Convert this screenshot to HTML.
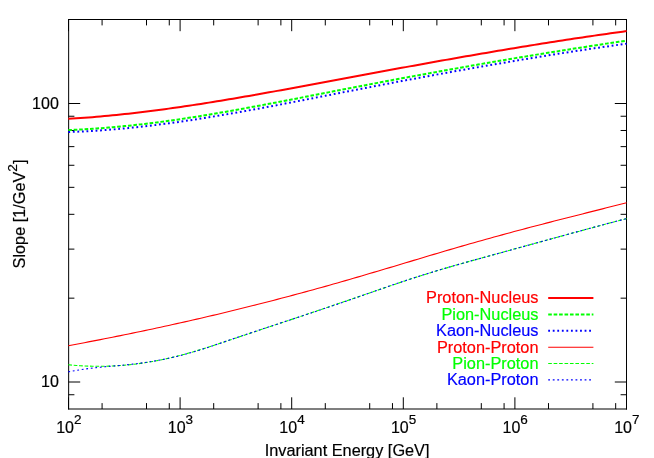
<!DOCTYPE html>
<html><head><meta charset="utf-8"><title>Slope vs Invariant Energy</title>
<style>html,body{margin:0;padding:0;background:#fff;overflow:hidden}svg{display:block;will-change:transform;opacity:0.999}</style>
</head><body>
<svg width="654" height="458" viewBox="0 0 654 458">
<rect width="654" height="458" fill="#fff"/>
<g stroke="#000" stroke-width="1" fill="none" stroke-linecap="square">
<path d="M68.65,409.59 V19.00" stroke-linecap="butt"/>
<path d="M68.15,19.50 H627.00" stroke-linecap="butt"/>
<path d="M626.50,19.00 V409.59" stroke-linecap="butt"/>
<path d="M68.15,409.00 H627.00" stroke-width="1.18" stroke-linecap="butt"/>
<path d="M68.50,409.00 v-11.70 M68.50,19.50 v11.70 M102.09,409.00 v-5.90 M102.09,19.50 v5.90 M146.51,409.00 v-5.90 M146.51,19.50 v5.90 M169.28,409.00 v-5.90 M169.28,19.50 v5.90 M180.10,409.00 v-11.70 M180.10,19.50 v11.70 M213.69,409.00 v-5.90 M213.69,19.50 v5.90 M258.11,409.00 v-5.90 M258.11,19.50 v5.90 M280.88,409.00 v-5.90 M280.88,19.50 v5.90 M291.70,409.00 v-11.70 M291.70,19.50 v11.70 M325.29,409.00 v-5.90 M325.29,19.50 v5.90 M369.71,409.00 v-5.90 M369.71,19.50 v5.90 M392.48,409.00 v-5.90 M392.48,19.50 v5.90 M403.30,409.00 v-11.70 M403.30,19.50 v11.70 M436.89,409.00 v-5.90 M436.89,19.50 v5.90 M481.31,409.00 v-5.90 M481.31,19.50 v5.90 M504.08,409.00 v-5.90 M504.08,19.50 v5.90 M514.90,409.00 v-11.70 M514.90,19.50 v11.70 M548.49,409.00 v-5.90 M548.49,19.50 v5.90 M592.91,409.00 v-5.90 M592.91,19.50 v5.90 M615.68,409.00 v-5.90 M615.68,19.50 v5.90 M626.50,409.00 v-11.70 M626.50,19.50 v11.70 M68.50,382.00 h11.70 M626.50,382.00 h-11.70 M68.50,103.50 h11.70 M626.50,103.50 h-11.70 M68.50,394.74 h5.90 M626.50,394.74 h-5.90 M68.50,298.16 h5.90 M626.50,298.16 h-5.90 M68.50,249.12 h5.90 M626.50,249.12 h-5.90 M68.50,214.32 h5.90 M626.50,214.32 h-5.90 M68.50,187.34 h5.90 M626.50,187.34 h-5.90 M68.50,165.28 h5.90 M626.50,165.28 h-5.90 M68.50,146.64 h5.90 M626.50,146.64 h-5.90 M68.50,130.49 h5.90 M626.50,130.49 h-5.90 M68.50,116.24 h5.90 M626.50,116.24 h-5.90" stroke-linecap="butt"/>
</g>
<g fill="none" stroke-linecap="butt" stroke-linejoin="round">
<path d="M68.30,118.87 L72.32,118.62 L76.33,118.36 L80.35,118.08 L84.37,117.79 L88.38,117.48 L92.40,117.16 L96.42,116.83 L100.43,116.48 L104.45,116.11 L108.47,115.73 L112.48,115.34 L116.50,114.94 L120.52,114.52 L124.53,114.10 L128.55,113.65 L132.56,113.20 L136.58,112.74 L140.60,112.26 L144.61,111.77 L148.63,111.27 L152.65,110.76 L156.66,110.24 L160.68,109.71 L164.70,109.17 L168.71,108.62 L172.73,108.06 L176.75,107.49 L180.76,106.91 L184.78,106.32 L188.80,105.73 L192.81,105.12 L196.83,104.51 L200.85,103.89 L204.86,103.26 L208.88,102.62 L212.90,101.98 L216.91,101.33 L220.93,100.67 L224.95,100.00 L228.96,99.33 L232.98,98.66 L236.99,97.98 L241.01,97.29 L245.03,96.59 L249.04,95.90 L253.06,95.19 L257.08,94.48 L261.09,93.77 L265.11,93.06 L269.13,92.34 L273.14,91.61 L277.16,90.88 L281.18,90.15 L285.19,89.42 L289.21,88.68 L293.23,87.95 L297.24,87.21 L301.26,86.46 L305.28,85.72 L309.29,84.97 L313.31,84.22 L317.33,83.48 L321.34,82.73 L325.36,81.98 L329.38,81.23 L333.39,80.48 L337.41,79.73 L341.43,78.98 L345.44,78.23 L349.46,77.48 L353.47,76.73 L357.49,75.99 L361.51,75.24 L365.52,74.50 L369.54,73.75 L373.56,73.01 L377.57,72.27 L381.59,71.53 L385.61,70.79 L389.62,70.05 L393.64,69.31 L397.66,68.58 L401.67,67.84 L405.69,67.11 L409.71,66.38 L413.72,65.65 L417.74,64.93 L421.76,64.20 L425.77,63.48 L429.79,62.75 L433.81,62.04 L437.82,61.32 L441.84,60.60 L445.86,59.89 L449.87,59.18 L453.89,58.47 L457.91,57.76 L461.92,57.06 L465.94,56.36 L469.95,55.66 L473.97,54.96 L477.99,54.27 L482.00,53.58 L486.02,52.89 L490.04,52.21 L494.05,51.52 L498.07,50.85 L502.09,50.17 L506.10,49.50 L510.12,48.83 L514.14,48.16 L518.15,47.50 L522.17,46.84 L526.19,46.18 L530.20,45.53 L534.22,44.88 L538.24,44.24 L542.25,43.60 L546.27,42.96 L550.29,42.32 L554.30,41.69 L558.32,41.07 L562.34,40.45 L566.35,39.83 L570.37,39.22 L574.38,38.61 L578.40,38.00 L582.42,37.40 L586.43,36.80 L590.45,36.21 L594.47,35.63 L598.48,35.04 L602.50,34.47 L606.52,33.89 L610.53,33.32 L614.55,32.76 L618.57,32.20 L622.58,31.65 L626.60,31.10" stroke="#f00" stroke-width="2.0"/>
<path d="M68.30,130.05 L72.32,129.89 L76.33,129.71 L80.35,129.52 L84.37,129.30 L88.38,129.06 L92.40,128.81 L96.42,128.53 L100.43,128.24 L104.45,127.93 L108.47,127.60 L112.48,127.26 L116.50,126.90 L120.52,126.52 L124.53,126.12 L128.55,125.71 L132.56,125.28 L136.58,124.84 L140.60,124.38 L144.61,123.91 L148.63,123.42 L152.65,122.92 L156.66,122.41 L160.68,121.88 L164.70,121.34 L168.71,120.79 L172.73,120.22 L176.75,119.65 L180.76,119.06 L184.78,118.46 L188.80,117.85 L192.81,117.22 L196.83,116.59 L200.85,115.95 L204.86,115.30 L208.88,114.64 L212.90,113.97 L216.91,113.29 L220.93,112.60 L224.95,111.90 L228.96,111.20 L232.98,110.49 L236.99,109.78 L241.01,109.05 L245.03,108.32 L249.04,107.59 L253.06,106.84 L257.08,106.10 L261.09,105.35 L265.11,104.59 L269.13,103.83 L273.14,103.06 L277.16,102.30 L281.18,101.53 L285.19,100.75 L289.21,99.97 L293.23,99.19 L297.24,98.41 L301.26,97.63 L305.28,96.85 L309.29,96.06 L313.31,95.28 L317.33,94.49 L321.34,93.71 L325.36,92.92 L329.38,92.14 L333.39,91.35 L337.41,90.57 L341.43,89.79 L345.44,89.01 L349.46,88.24 L353.47,87.46 L357.49,86.69 L361.51,85.92 L365.52,85.15 L369.54,84.39 L373.56,83.62 L377.57,82.86 L381.59,82.10 L385.61,81.34 L389.62,80.59 L393.64,79.84 L397.66,79.09 L401.67,78.34 L405.69,77.59 L409.71,76.85 L413.72,76.11 L417.74,75.37 L421.76,74.63 L425.77,73.90 L429.79,73.16 L433.81,72.43 L437.82,71.71 L441.84,70.98 L445.86,70.26 L449.87,69.54 L453.89,68.82 L457.91,68.11 L461.92,67.40 L465.94,66.69 L469.95,65.98 L473.97,65.28 L477.99,64.58 L482.00,63.88 L486.02,63.18 L490.04,62.49 L494.05,61.80 L498.07,61.11 L502.09,60.42 L506.10,59.74 L510.12,59.06 L514.14,58.38 L518.15,57.71 L522.17,57.04 L526.19,56.37 L530.20,55.70 L534.22,55.04 L538.24,54.38 L542.25,53.72 L546.27,53.07 L550.29,52.42 L554.30,51.77 L558.32,51.13 L562.34,50.48 L566.35,49.85 L570.37,49.21 L574.38,48.58 L578.40,47.95 L582.42,47.32 L586.43,46.70 L590.45,46.08 L594.47,45.46 L598.48,44.85 L602.50,44.24 L606.52,43.63 L610.53,43.03 L614.55,42.43 L618.57,41.83 L622.58,41.24 L626.60,40.65" stroke="#0f0" stroke-width="2.0" stroke-dasharray="3.63 1.81"/>
<path d="M68.30,132.01 L72.32,131.88 L76.33,131.73 L80.35,131.55 L84.37,131.36 L88.38,131.15 L92.40,130.92 L96.42,130.67 L100.43,130.40 L104.45,130.11 L108.47,129.80 L112.48,129.48 L116.50,129.14 L120.52,128.78 L124.53,128.41 L128.55,128.02 L132.56,127.61 L136.58,127.19 L140.60,126.76 L144.61,126.30 L148.63,125.84 L152.65,125.35 L156.66,124.86 L160.68,124.35 L164.70,123.83 L168.71,123.29 L172.73,122.75 L176.75,122.18 L180.76,121.61 L184.78,121.03 L188.80,120.43 L192.81,119.83 L196.83,119.21 L200.85,118.58 L204.86,117.94 L208.88,117.30 L212.90,116.64 L216.91,115.97 L220.93,115.30 L224.95,114.62 L228.96,113.92 L232.98,113.23 L236.99,112.52 L241.01,111.81 L245.03,111.09 L249.04,110.36 L253.06,109.63 L257.08,108.89 L261.09,108.14 L265.11,107.40 L269.13,106.64 L273.14,105.88 L277.16,105.12 L281.18,104.36 L285.19,103.59 L289.21,102.81 L293.23,102.04 L297.24,101.26 L301.26,100.48 L305.28,99.70 L309.29,98.91 L313.31,98.13 L317.33,97.34 L321.34,96.56 L325.36,95.77 L329.38,94.99 L333.39,94.20 L337.41,93.42 L341.43,92.63 L345.44,91.85 L349.46,91.07 L353.47,90.29 L357.49,89.51 L361.51,88.74 L365.52,87.96 L369.54,87.19 L373.56,86.42 L377.57,85.65 L381.59,84.88 L385.61,84.12 L389.62,83.35 L393.64,82.59 L397.66,81.83 L401.67,81.07 L405.69,80.32 L409.71,79.57 L413.72,78.82 L417.74,78.07 L421.76,77.32 L425.77,76.58 L429.79,75.84 L433.81,75.10 L437.82,74.36 L441.84,73.63 L445.86,72.90 L449.87,72.17 L453.89,71.45 L457.91,70.72 L461.92,70.01 L465.94,69.29 L469.95,68.58 L473.97,67.87 L477.99,67.16 L482.00,66.46 L486.02,65.75 L490.04,65.06 L494.05,64.36 L498.07,63.67 L502.09,62.99 L506.10,62.30 L510.12,61.62 L514.14,60.95 L518.15,60.27 L522.17,59.60 L526.19,58.94 L530.20,58.28 L534.22,57.62 L538.24,56.96 L542.25,56.31 L546.27,55.67 L550.29,55.03 L554.30,54.39 L558.32,53.76 L562.34,53.13 L566.35,52.50 L570.37,51.88 L574.38,51.26 L578.40,50.65 L582.42,50.04 L586.43,49.44 L590.45,48.84 L594.47,48.25 L598.48,47.66 L602.50,47.08 L606.52,46.50 L610.53,45.92 L614.55,45.35 L618.57,44.79 L622.58,44.23 L626.60,43.67" stroke="#00f" stroke-width="2.0" stroke-dasharray="1.82 2.73"/>
<path d="M68.30,345.67 L72.32,344.93 L76.33,344.18 L80.35,343.43 L84.37,342.67 L88.38,341.91 L92.40,341.14 L96.42,340.37 L100.43,339.59 L104.45,338.80 L108.47,338.01 L112.48,337.21 L116.50,336.41 L120.52,335.60 L124.53,334.78 L128.55,333.96 L132.56,333.14 L136.58,332.30 L140.60,331.47 L144.61,330.62 L148.63,329.77 L152.65,328.92 L156.66,328.06 L160.68,327.19 L164.70,326.32 L168.71,325.44 L172.73,324.55 L176.75,323.66 L180.76,322.76 L184.78,321.86 L188.80,320.95 L192.81,320.04 L196.83,319.11 L200.85,318.19 L204.86,317.25 L208.88,316.31 L212.90,315.37 L216.91,314.42 L220.93,313.46 L224.95,312.49 L228.96,311.52 L232.98,310.55 L236.99,309.56 L241.01,308.58 L245.03,307.58 L249.04,306.58 L253.06,305.57 L257.08,304.56 L261.09,303.54 L265.11,302.51 L269.13,301.48 L273.14,300.44 L277.16,299.39 L281.18,298.34 L285.19,297.28 L289.21,296.22 L293.23,295.15 L297.24,294.07 L301.26,292.99 L305.28,291.90 L309.29,290.80 L313.31,289.70 L317.33,288.59 L321.34,287.47 L325.36,286.35 L329.38,285.22 L333.39,284.08 L337.41,282.94 L341.43,281.79 L345.44,280.63 L349.46,279.47 L353.47,278.30 L357.49,277.13 L361.51,275.95 L365.52,274.77 L369.54,273.59 L373.56,272.40 L377.57,271.20 L381.59,270.01 L385.61,268.81 L389.62,267.61 L393.64,266.41 L397.66,265.21 L401.67,264.00 L405.69,262.80 L409.71,261.60 L413.72,260.39 L417.74,259.19 L421.76,257.99 L425.77,256.79 L429.79,255.59 L433.81,254.40 L437.82,253.21 L441.84,252.02 L445.86,250.83 L449.87,249.65 L453.89,248.48 L457.91,247.31 L461.92,246.14 L465.94,244.98 L469.95,243.83 L473.97,242.68 L477.99,241.54 L482.00,240.41 L486.02,239.28 L490.04,238.16 L494.05,237.05 L498.07,235.95 L502.09,234.85 L506.10,233.76 L510.12,232.67 L514.14,231.59 L518.15,230.52 L522.17,229.45 L526.19,228.39 L530.20,227.33 L534.22,226.28 L538.24,225.23 L542.25,224.18 L546.27,223.14 L550.29,222.10 L554.30,221.07 L558.32,220.04 L562.34,219.01 L566.35,217.99 L570.37,216.96 L574.38,215.94 L578.40,214.93 L582.42,213.91 L586.43,212.90 L590.45,211.88 L594.47,210.87 L598.48,209.86 L602.50,208.85 L606.52,207.84 L610.53,206.83 L614.55,205.82 L618.57,204.81 L622.58,203.80 L626.60,202.79" stroke="#f00" stroke-width="1.1"/>
<path d="M68.30,364.78 L72.32,365.15 L76.33,365.47 L80.35,365.74 L84.37,365.96 L88.38,366.13 L92.40,366.24 L96.42,366.30 L100.43,366.31 L104.45,366.26 L108.47,366.16 L112.48,366.01 L116.50,365.80 L120.52,365.54 L124.53,365.22 L128.55,364.85 L132.56,364.42 L136.58,363.94 L140.60,363.40 L144.61,362.81 L148.63,362.17 L152.65,361.47 L156.66,360.73 L160.68,359.93 L164.70,359.09 L168.71,358.20 L172.73,357.26 L176.75,356.28 L180.76,355.25 L184.78,354.18 L188.80,353.07 L192.81,351.92 L196.83,350.72 L200.85,349.50 L204.86,348.24 L208.88,346.96 L212.90,345.66 L216.91,344.34 L220.93,343.00 L224.95,341.66 L228.96,340.32 L232.98,338.97 L236.99,337.63 L241.01,336.29 L245.03,334.95 L249.04,333.61 L253.06,332.27 L257.08,330.93 L261.09,329.59 L265.11,328.25 L269.13,326.91 L273.14,325.57 L277.16,324.23 L281.18,322.89 L285.19,321.55 L289.21,320.21 L293.23,318.87 L297.24,317.52 L301.26,316.18 L305.28,314.83 L309.29,313.48 L313.31,312.13 L317.33,310.78 L321.34,309.42 L325.36,308.07 L329.38,306.71 L333.39,305.35 L337.41,303.98 L341.43,302.62 L345.44,301.25 L349.46,299.87 L353.47,298.50 L357.49,297.12 L361.51,295.73 L365.52,294.35 L369.54,292.96 L373.56,291.57 L377.57,290.19 L381.59,288.80 L385.61,287.43 L389.62,286.05 L393.64,284.69 L397.66,283.33 L401.67,281.99 L405.69,280.65 L409.71,279.33 L413.72,278.02 L417.74,276.73 L421.76,275.45 L425.77,274.19 L429.79,272.95 L433.81,271.72 L437.82,270.51 L441.84,269.31 L445.86,268.13 L449.87,266.96 L453.89,265.79 L457.91,264.64 L461.92,263.50 L465.94,262.36 L469.95,261.24 L473.97,260.12 L477.99,259.00 L482.00,257.89 L486.02,256.78 L490.04,255.68 L494.05,254.57 L498.07,253.47 L502.09,252.37 L506.10,251.27 L510.12,250.17 L514.14,249.06 L518.15,247.96 L522.17,246.86 L526.19,245.76 L530.20,244.65 L534.22,243.55 L538.24,242.45 L542.25,241.35 L546.27,240.25 L550.29,239.15 L554.30,238.05 L558.32,236.95 L562.34,235.86 L566.35,234.76 L570.37,233.67 L574.38,232.58 L578.40,231.49 L582.42,230.40 L586.43,229.31 L590.45,228.23 L594.47,227.15 L598.48,226.06 L602.50,224.99 L606.52,223.91 L610.53,222.84 L614.55,221.77 L618.57,220.70 L622.58,219.63 L626.60,218.57" stroke="#0f0" stroke-width="1.1" stroke-dasharray="3.63 1.81"/>
<path d="M68.30,371.87 L72.32,371.10 L76.33,370.39 L80.35,369.74 L84.37,369.15 L88.38,368.61 L92.40,368.11 L96.42,367.64 L100.43,367.22 L104.45,366.82 L108.47,366.45 L112.48,366.09 L116.50,365.74 L120.52,365.37 L124.53,365.00 L128.55,364.59 L132.56,364.15 L136.58,363.68 L140.60,363.15 L144.61,362.59 L148.63,361.98 L152.65,361.33 L156.66,360.63 L160.68,359.89 L164.70,359.10 L168.71,358.26 L172.73,357.37 L176.75,356.43 L180.76,355.44 L184.78,354.39 L188.80,353.29 L192.81,352.14 L196.83,350.93 L200.85,349.69 L204.86,348.40 L208.88,347.08 L212.90,345.74 L216.91,344.38 L220.93,343.00 L224.95,341.62 L228.96,340.24 L232.98,338.87 L236.99,337.50 L241.01,336.15 L245.03,334.80 L249.04,333.45 L253.06,332.11 L257.08,330.77 L261.09,329.44 L265.11,328.12 L269.13,326.79 L273.14,325.47 L277.16,324.15 L281.18,322.83 L285.19,321.51 L289.21,320.19 L293.23,318.87 L297.24,317.55 L301.26,316.23 L305.28,314.90 L309.29,313.57 L313.31,312.24 L317.33,310.90 L321.34,309.56 L325.36,308.21 L329.38,306.85 L333.39,305.49 L337.41,304.12 L341.43,302.74 L345.44,301.36 L349.46,299.96 L353.47,298.57 L357.49,297.16 L361.51,295.76 L365.52,294.35 L369.54,292.95 L373.56,291.54 L377.57,290.14 L381.59,288.74 L385.61,287.35 L389.62,285.97 L393.64,284.60 L397.66,283.23 L401.67,281.88 L405.69,280.54 L409.71,279.21 L413.72,277.91 L417.74,276.61 L421.76,275.34 L425.77,274.09 L429.79,272.85 L433.81,271.63 L437.82,270.43 L441.84,269.24 L445.86,268.06 L449.87,266.90 L453.89,265.75 L457.91,264.60 L461.92,263.47 L465.94,262.35 L469.95,261.23 L473.97,260.12 L477.99,259.01 L482.00,257.91 L486.02,256.81 L490.04,255.71 L494.05,254.62 L498.07,253.52 L502.09,252.42 L506.10,251.32 L510.12,250.21 L514.14,249.11 L518.15,248.00 L522.17,246.90 L526.19,245.79 L530.20,244.68 L534.22,243.57 L538.24,242.46 L542.25,241.36 L546.27,240.25 L550.29,239.14 L554.30,238.03 L558.32,236.93 L562.34,235.83 L566.35,234.72 L570.37,233.63 L574.38,232.53 L578.40,231.43 L582.42,230.34 L586.43,229.25 L590.45,228.17 L594.47,227.08 L598.48,226.00 L602.50,224.93 L606.52,223.86 L610.53,222.79 L614.55,221.73 L618.57,220.67 L622.58,219.62 L626.60,218.58" stroke="#00f" stroke-width="1.1" stroke-dasharray="1.82 2.73"/>
<path d="M548.2,298.1 L593.4,298.1" stroke="#f00" stroke-width="2.0"/>
<path d="M548.2,314.5 L593.4,314.5" stroke="#0f0" stroke-width="2.0" stroke-dasharray="3.63 1.81"/>
<path d="M548.2,330.8 L593.4,330.8" stroke="#00f" stroke-width="2.0" stroke-dasharray="1.82 2.73"/>
<path d="M548.2,347.2 L593.4,347.2" stroke="#f00" stroke-width="1.1"/>
<path d="M548.2,363.5 L593.4,363.5" stroke="#0f0" stroke-width="1.1" stroke-dasharray="3.63 1.81"/>
<path d="M548.2,379.9 L593.4,379.9" stroke="#00f" stroke-width="1.1" stroke-dasharray="1.82 2.73"/>
</g>
<g font-family="'Liberation Sans', sans-serif" font-size="16.0px" fill="#000" stroke="#000" stroke-width="0.18" stroke-linejoin="round">
<text transform="translate(58.80,387.05) scale(1.0000,1)" text-anchor="end">10</text>
<text transform="translate(58.80,109.45) scale(1.0000,1)" text-anchor="end">100</text>
<text transform="translate(68.80,432.50) scale(1.0000,1)" text-anchor="middle">10<tspan dy="-8.6" font-size="13.5px">2</tspan></text>
<text transform="translate(180.40,432.50) scale(1.0000,1)" text-anchor="middle">10<tspan dy="-8.6" font-size="13.5px">3</tspan></text>
<text transform="translate(292.00,432.50) scale(1.0000,1)" text-anchor="middle">10<tspan dy="-8.6" font-size="13.5px">4</tspan></text>
<text transform="translate(403.60,432.50) scale(1.0000,1)" text-anchor="middle">10<tspan dy="-8.6" font-size="13.5px">5</tspan></text>
<text transform="translate(515.20,432.50) scale(1.0000,1)" text-anchor="middle">10<tspan dy="-8.6" font-size="13.5px">6</tspan></text>
<text transform="translate(626.80,432.50) scale(1.0000,1)" text-anchor="middle">10<tspan dy="-8.6" font-size="13.5px">7</tspan></text>
<text transform="translate(347.10,455.60) scale(1.0190,1)" text-anchor="middle">Invariant Energy [GeV]</text>
<text transform="translate(24.70,213.95) rotate(-90) scale(1.0170,1)" text-anchor="middle">Slope [1/GeV<tspan dy="-7.8" font-size="13.5px">2</tspan><tspan dy="7.8">]</tspan></text>
<text transform="translate(538.50,303.30) scale(1.0200,1)" text-anchor="end" fill="#f00" stroke="#f00">Proton-Nucleus</text>
<text transform="translate(538.50,320.00) scale(1.0200,1)" text-anchor="end" fill="#0f0" stroke="#0f0">Pion-Nucleus</text>
<text transform="translate(538.50,336.30) scale(1.0200,1)" text-anchor="end" fill="#00f" stroke="#00f">Kaon-Nucleus</text>
<text transform="translate(538.50,353.00) scale(1.0200,1)" text-anchor="end" fill="#f00" stroke="#f00">Proton-Proton</text>
<text transform="translate(538.50,369.00) scale(1.0200,1)" text-anchor="end" fill="#0f0" stroke="#0f0">Pion-Proton</text>
<text transform="translate(538.50,385.00) scale(1.0200,1)" text-anchor="end" fill="#00f" stroke="#00f">Kaon-Proton</text>
</g>
</svg>
</body></html>
